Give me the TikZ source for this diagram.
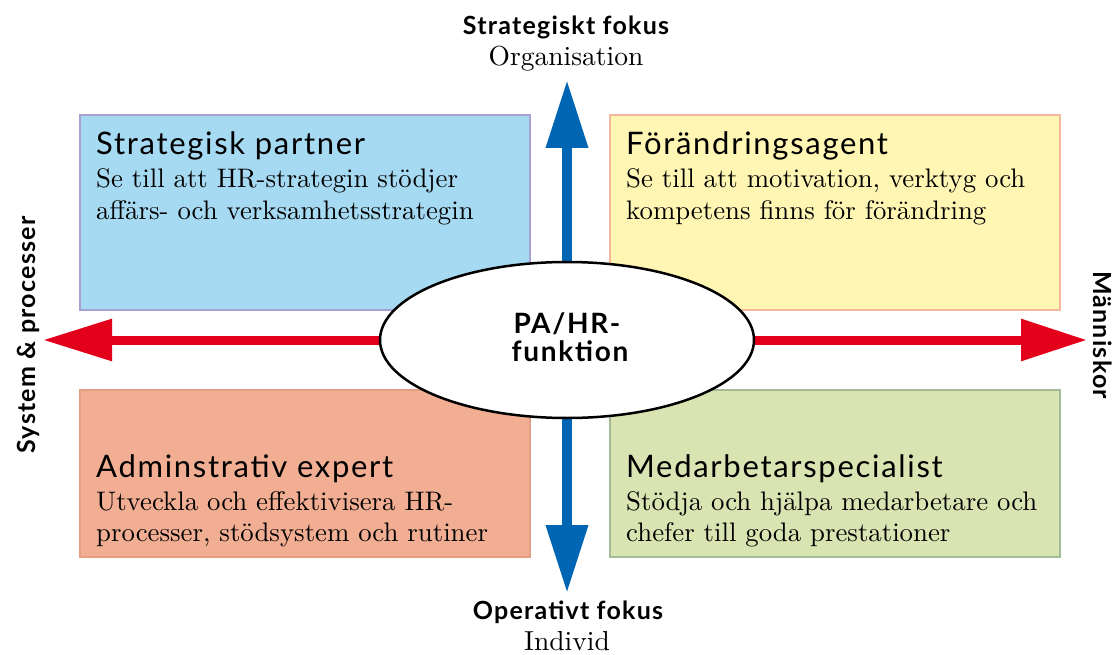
\documentclass[tikz,border=0pt]{standalone}
\usepackage{fontspec}
\newfontfamily\gill{Lato}
\newfontfamily\serifw{lmroman10-regular.otf}
\usetikzlibrary{arrows.meta,shapes.geometric}
\definecolor{tlf}{HTML}{A6DAF2}
\definecolor{tlb}{HTML}{A8A0D0}
\definecolor{trf}{HTML}{FFF6B4}
\definecolor{trb}{HTML}{F6B89C}
\definecolor{blf}{HTML}{F2AE93}
\definecolor{blb}{HTML}{E59E84}
\definecolor{brf}{HTML}{D9E4B2}
\definecolor{brb}{HTML}{A3BC95}
\definecolor{axblue}{HTML}{0066B3}
\definecolor{axred}{HTML}{E2001A}
\begin{document}
\begin{tikzpicture}[x=1pt,y=-1pt,
  quad/.style={line width=2pt, inner sep=0pt, minimum width=450pt},
  ttl/.style={anchor=base west, inner sep=0pt, font=\gill\fontsize{31}{34}\selectfont\addfontfeature{LetterSpace=5.5}},
  bodytxt/.style={anchor=base west, inner sep=0pt, font=\serifw\fontsize{26.8}{30}\selectfont},
  lab/.style={inner sep=0pt, font=\gill\bfseries\fontsize{25}{28}\selectfont\addfontfeature{LetterSpace=5}},
  ctr/.style={inner sep=0pt, font=\gill\bfseries\fontsize{28}{29}\selectfont\addfontfeature{LetterSpace=6}},
  sub/.style={inner sep=0pt, font=\serifw\fontsize{27.5}{30}\selectfont},
  vaxis/.style={draw=axblue, line width=10pt, {Triangle[width=40pt,length=68pt]}-{Triangle[width=40pt,length=68pt]}},
  haxis/.style={draw=axred, line width=9pt, {Triangle[width=40pt,length=69pt]}-{Triangle[width=40pt,length=66pt]}}
]
\useasboundingbox (0,0) rectangle (1116,655);

% quadrants
\node[quad, draw=tlb, fill=tlf, minimum height=195pt] (sp) at (305,212.5) {};
\node[quad, draw=trb, fill=trf, minimum height=195pt] (fa) at (835,212.5) {};
\node[quad, draw=blb, fill=blf, minimum height=167pt] (ae) at (305,473.5) {};
\node[quad, draw=brb, fill=brf, minimum height=167pt] (ms) at (835,473.5) {};

% axes
\coordinate (top) at (567,80);
\coordinate (bot) at (567,593);
\coordinate (lft) at (43,340);
\coordinate (rgt) at (1087,340);
\draw[vaxis] (bot) -- (top);
\draw[haxis] (lft) -- (rgt);

% centre
\node[ellipse, draw=black, line width=2.5pt, fill=white, minimum width=374pt, minimum height=156pt, inner sep=0pt] (pa) at (567,340) {};
\node[ctr, anchor=base] (patxt1) at (567,333) {PA/HR-};
\node[ctr, anchor=base] (patxt2) at (570,361) {funktion};

% quadrant texts
\node[ttl] (t1) at (96,155) {Strategisk partner};
\node[bodytxt] (b1a) at (96,188) {Se till att HR-strategin stödjer};
\node[bodytxt] (b1b) at (96,219) {affärs- och verksamhetsstrategin};

\node[ttl] (t2) at (626,155) {Förändringsagent};
\node[bodytxt] (b2a) at (626,188) {Se till att motivation, verktyg och};
\node[bodytxt] (b2b) at (626,219) {kompetens finns för förändring};

\node[ttl] (t3) at (96,477) {Adminstrativ expert};
\node[bodytxt] (b3a) at (96,510) {Utveckla och effektivisera HR-};
\node[bodytxt] (b3b) at (96,541) {processer, stödsystem och rutiner};

\node[ttl] (t4) at (626,477) {Medarbetarspecialist};
\node[bodytxt] (b4a) at (626,510) {Stödja och hjälpa medarbetare och};
\node[bodytxt] (b4b) at (626,541) {chefer till goda prestationer};

% axis labels
\node[lab, anchor=base] (sf) at (566,35) {Strategiskt fokus};
\node[sub, anchor=base] (org) at (566,66) {Organisation};
\node[lab, anchor=base] (of) at (568,619) {Operativt fokus};
\node[sub, anchor=base] (ind) at (567,650) {Individ};
\node[lab, rotate=90] (sys) at (28,335) {System \& processer};
\node[lab, rotate=-90] (man) at (1103,335) {Människor};
\end{tikzpicture}
\end{document}
